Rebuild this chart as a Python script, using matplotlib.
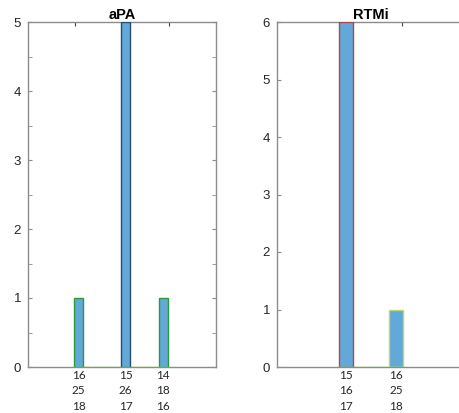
import matplotlib
matplotlib.use("Agg")
import matplotlib.pyplot as plt

# Data
left_title = "aPA"
left_x = [1.04, 1.54, 1.94]
left_counts = [1, 5, 1]
left_labels = ["16\n25\n18", "15\n26\n17", "14\n18\n16"]

right_title = "RTMi"
right_x = [1.234, 1.766]
right_counts = [6, 1]
right_labels = ["15\n16\n17", "16\n25\n18"]

W, H = 459, 413
fig = plt.figure(figsize=(W / 100, H / 100), dpi=100)

bar_color = "#62a8d9"
axis_color = "#8c8c8c"


def make_axes(rect_px, xs, counts, labels, title, ymax, minor, width, edgecolors, top_ticks, base_color):
    l, b, w, h = rect_px
    ax = fig.add_axes([l / W, (H - b) / H, w / W, h / H])
    ax.bar(xs, counts, width=width, color=bar_color, edgecolor=edgecolors, linewidth=1.0, zorder=3)
    ax.plot([xs[0] - width / 2, xs[-1] + width / 2], [0, 0], color=base_color, lw=1.0, zorder=4)
    ax.set_xlim(0.5, 2.5)
    ax.set_ylim(0, ymax)
    ax.set_yticks(range(0, ymax + 1))
    ax.set_yticklabels([str(i) for i in range(0, ymax + 1)], fontsize=9.5, color="#262626",
                       family="Liberation Sans")
    if minor:
        ax.set_yticks([i + 0.5 for i in range(ymax)], minor=True)
        ax.tick_params(axis="y", which="minor", direction="in", length=3, color=axis_color, right=True)
    ax.tick_params(axis="y", which="major", direction="in", length=3, color=axis_color, right=True, pad=5)
    ax.set_xticks(xs)
    ax.set_xticklabels(labels, fontsize=8.5, color="#262626", family="Lato", linespacing=1.5)
    ax.tick_params(axis="x", length=0, pad=2)
    sec = ax.secondary_xaxis("top")
    sec.set_xticks(top_ticks)
    sec.set_xticklabels([])
    sec.tick_params(direction="in", length=3, color="#404040")
    sec.spines["top"].set_visible(False)
    for s in ax.spines.values():
        s.set_color(axis_color)
        s.set_linewidth(1.0)
    ax.set_title(title, fontsize=10.5, fontweight="bold", family="Liberation Sans", pad=2)
    return ax


make_axes((28, 367, 188, 345), left_x, left_counts, left_labels, left_title, 5, True, 0.1,
          ["#2a9a3a", "#24506a", "#2a9a3a"], [1, 2], "#7ddc5a")
make_axes((277, 367, 188, 345), right_x, right_counts, right_labels, right_title, 6, False, 0.14,
          ["#b04848", "#b8d870"], [1.83], "#8ee05a")

fig.savefig("out.png", dpi=100)
